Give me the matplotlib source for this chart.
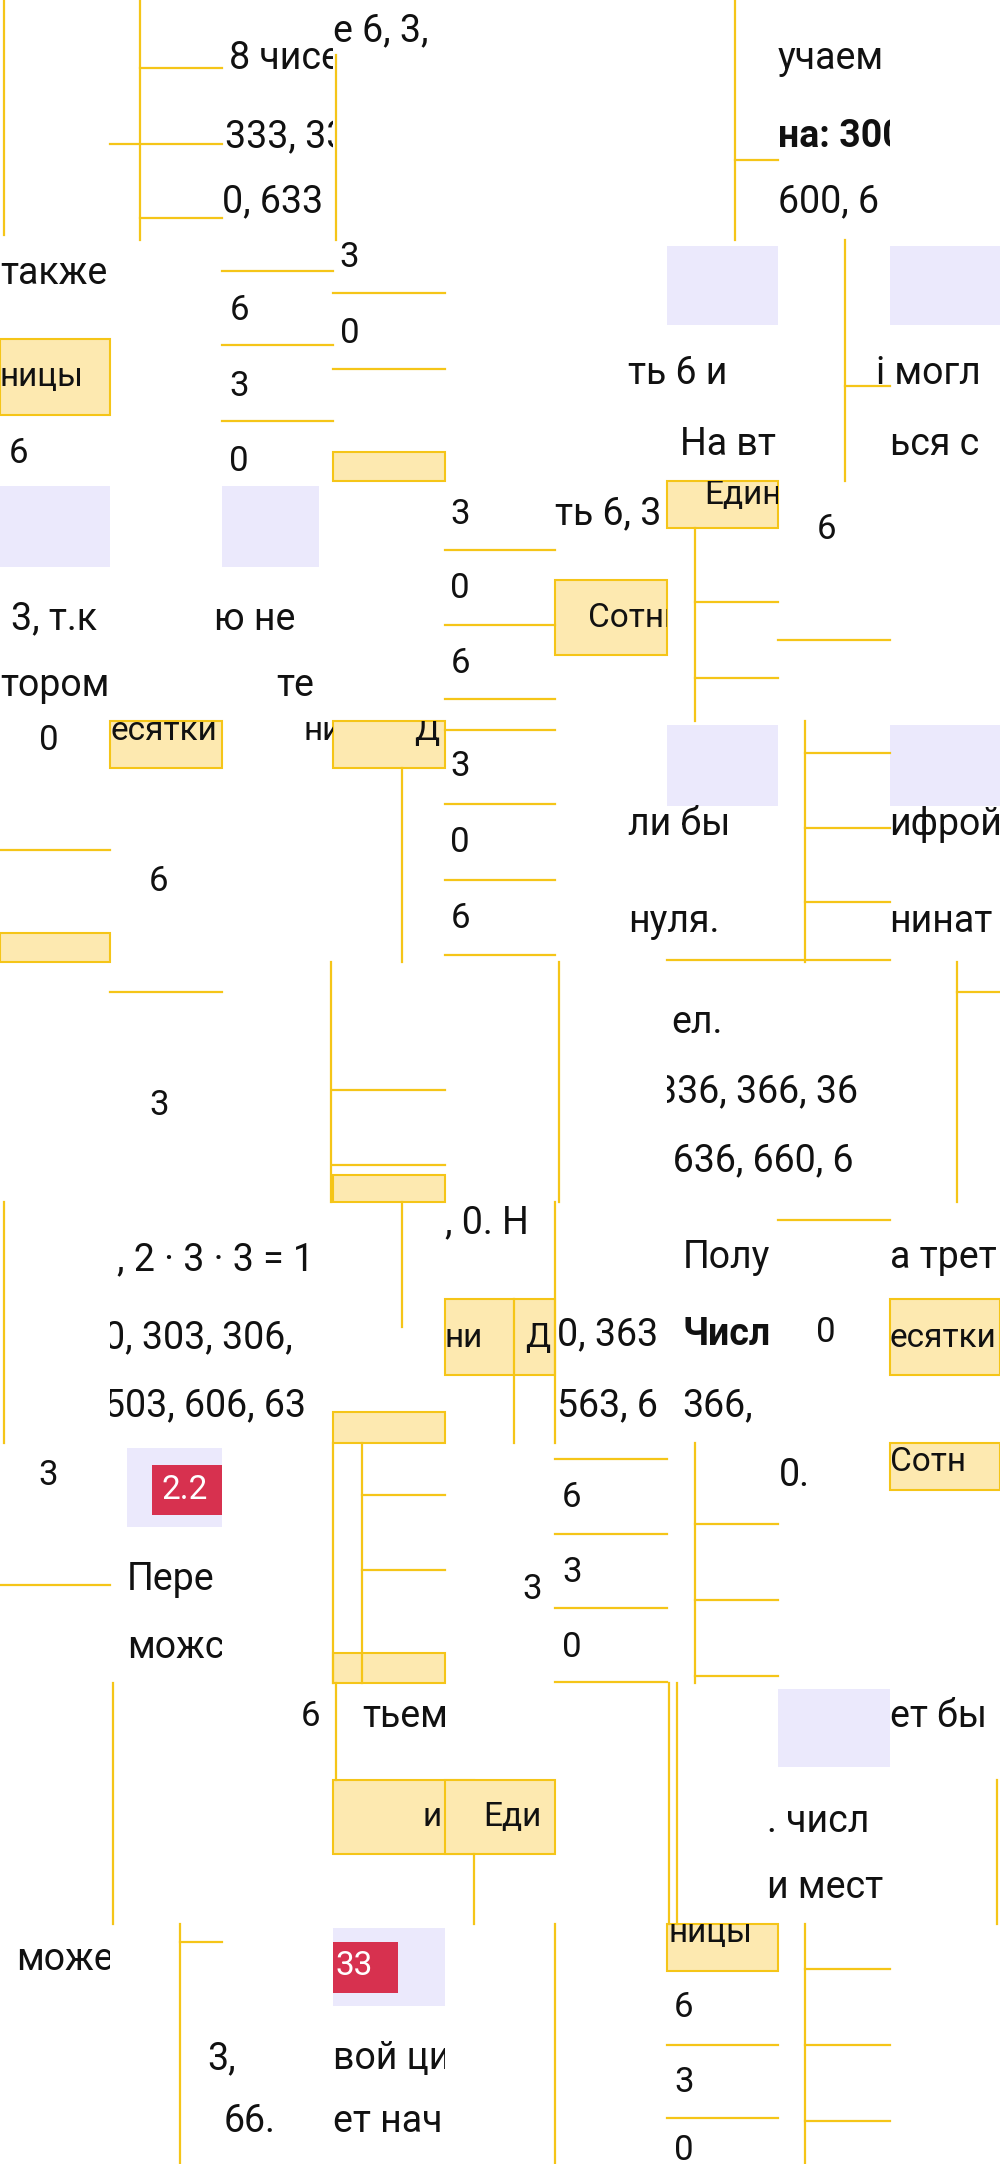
import bisect
import matplotlib.pyplot as plt
from matplotlib.patches import Rectangle
from matplotlib.transforms import Bbox

# reference laid out in 724 x 1566 units, 9 x 9 tiles
W, H = 724, 1566
COLS = [0, 80, 161, 241, 322, 402, 483, 563, 644, 724]
ROWS = [0, 174, 348, 522, 696, 870, 1044, 1218, 1392, 1566]

YEL = "#f5c518"
YEL_FILL = "#fde9b0"
LAV = "#ebe9fc"
RED = "#d7314f"

# text: (clip cols or None, x, y, string, size, bold)
texts = [
    (None, 166, 42, "8 чисел", 27, False), (None, 163, 99, "333, 336", 27, False),
    (None, 161, 146, "0, 633", 27, False), (None, 241, 22, "е 6, 3,", 27, False),
    (None, 563, 42, "учаем", 27, False), (None, 563, 99, "на: 300", 27, True),
    (None, 563, 146, "600, 6", 27, False),
    (None, 0, 198, "также", 27, False), (None, 0, 273, "ницы", 24, False),
    (None, 6, 328, "6", 25, False), (None, 166, 225, "6", 25, False),
    (None, 166, 280, "3", 25, False), (None, 166, 334, "0", 25, False),
    (None, 246, 186, "3", 25, False), (None, 246, 241, "0", 25, False),
    ((5, 7), 455, 270, "ть 6 и", 27, False), (None, 492, 322, "На вт", 27, False),
    ((7, 9), 634, 270, "i могл", 27, False), (None, 644, 322, "ься с", 27, False),
    (None, 8, 448, "3, т.к", 27, False), (None, 0, 496, "тором", 27, False),
    ((1, 3), 155, 448, "ю не", 27, False), ((1, 3), 200, 496, "те", 27, False),
    (None, 326, 372, "3", 25, False), (None, 326, 426, "0", 25, False),
    (None, 326, 480, "6", 25, False), (None, 402, 372, "ть 6, 3", 27, False),
    (None, 426, 447, "Сотни", 24, False), (None, 510, 358, "Единицы", 24, False),
    (None, 591, 383, "6", 25, False),
    (None, 28, 536, "0", 25, False), (None, 80, 529, "есятки", 24, False),
    (None, 108, 638, "6", 25, False), ((2, 3), 220, 529, "ни", 24, False),
    (None, 300, 529, "Д", 24, False), (None, 326, 555, "3", 25, False),
    (None, 326, 610, "0", 25, False), (None, 326, 665, "6", 25, False),
    ((5, 7), 455, 597, "ли бы", 27, False), ((5, 7), 455, 667, "нуля.", 27, False),
    (None, 644, 597, "ифрой", 27, False), (None, 644, 667, "нинат", 27, False),
    (None, 108, 800, "3", 25, False), (None, 486, 740, "ел.", 27, False),
    ((6, 8), 475, 790, "336, 366, 36", 27, False), ((6, 8), 475, 840, ", 636, 660, 6", 27, False),
    ((1, 3), 85, 912, ", 2 · 3 · 3 = 1", 27, False), ((1, 3), 75, 968, "0, 303, 306,", 27, False),
    ((1, 3), 75, 1017, "503, 606, 63", 27, False), (None, 322, 885, ", 0. Н", 27, False),
    (None, 322, 968, "ни", 24, False), (None, 380, 968, "Д", 24, False),
    (None, 403, 966, "0, 363", 27, False), (None, 403, 1017, "563, 6", 27, False),
    (None, 494, 910, "Полу", 27, False), (None, 494, 966, "Числ", 27, True),
    (None, 494, 1017, "366,", 27, False), (None, 644, 910, "а трет", 27, False),
    (None, 591, 964, "0", 25, False), (None, 644, 968, "есятки", 24, False),
    (None, 28, 1068, "3", 25, False), (None, 92, 1143, "Пере", 27, False),
    (None, 92, 1192, "можс", 27, False), (None, 378, 1150, "3", 25, False),
    (None, 407, 1084, "6", 25, False), (None, 407, 1138, "3", 25, False),
    (None, 407, 1192, "0", 25, False), (None, 564, 1068, "0.", 27, False),
    (None, 644, 1058, "Сотн", 24, False),
    (None, 218, 1242, "6", 25, False), (None, 262, 1242, "тьем", 27, False),
    (None, 306, 1315, "и", 24, False), (None, 350, 1315, "Еди", 24, False),
    (None, 644, 1242, "ет бы", 27, False), ((6, 8), 555, 1318, ". числ", 27, False),
    ((6, 8), 555, 1366, "и мест", 27, False),
    (None, 12, 1418, "може", 27, False), ((1, 3), 150, 1490, "3,", 27, False),
    (None, 162, 1535, "66.", 27, False), (None, 241, 1490, "вой ци", 27, False),
    (None, 241, 1535, "ет нач", 27, False), (None, 484, 1399, "ницы", 24, False),
    (None, 488, 1453, "6", 25, False), (None, 488, 1507, "3", 25, False),
    (None, 488, 1556, "0", 25, False),
]

# yellow lines: (x0, y0, x1, y1)
lines = [
    (3, 0, 3, 170), (101, 0, 101, 174), (101, 49, 161, 49),
    (80, 104, 161, 104), (101, 158, 161, 158), (243, 40, 243, 174),
    (532, 0, 532, 174), (532, 116, 563, 116),
    (161, 196, 241, 196), (161, 250, 241, 250), (161, 305, 241, 305),
    (241, 212, 322, 212), (241, 267, 322, 267),
    (612, 174, 612, 348), (612, 279, 644, 279),
    (322, 398, 402, 398), (322, 452, 402, 452), (322, 506, 402, 506),
    (503, 382, 503, 522), (503, 436, 563, 436), (503, 491, 563, 491),
    (563, 463, 644, 463),
    (0, 615, 80, 615), (291, 556, 291, 696),
    (322, 528, 402, 528), (322, 582, 402, 582), (322, 637, 402, 637),
    (322, 691, 402, 691), (583, 522, 583, 696), (583, 545, 644, 545),
    (583, 599, 644, 599), (583, 653, 644, 653), (483, 695, 644, 695),
    (80, 718, 161, 718), (240, 696, 240, 870),
    (241, 789, 322, 789), (241, 843, 322, 843), (405, 696, 405, 870),
    (693, 696, 693, 870), (693, 718, 724, 718),
    (3, 870, 3, 1044), (291, 870, 291, 960), (372, 940, 372, 1044),
    (402, 870, 402, 1044), (563, 883, 644, 883),
    (0, 1147, 80, 1147), (262, 1044, 262, 1218), (241, 1044, 241, 1218),
    (262, 1082, 322, 1082), (262, 1136, 322, 1136),
    (402, 1056, 483, 1056), (402, 1110, 483, 1110),
    (402, 1164, 483, 1164), (402, 1217, 483, 1217),
    (503, 1044, 503, 1218), (503, 1103, 563, 1103),
    (503, 1158, 563, 1158), (503, 1213, 563, 1213),
    (82, 1218, 82, 1392), (243, 1218, 243, 1288), (343, 1342, 343, 1392),
    (484, 1218, 484, 1392), (490, 1218, 490, 1392), (722, 1288, 722, 1392),
    (130, 1392, 130, 1566), (130, 1405, 161, 1405), (402, 1392, 402, 1566),
    (483, 1480, 563, 1480), (483, 1533, 563, 1533),
    (583, 1392, 583, 1566), (583, 1425, 644, 1425),
    (583, 1480, 644, 1480), (583, 1535, 644, 1535),
]

# boxes: (x, y, w, h, kind)
boxes = [
    (0, 245, 80, 55, "yel"), (241, 327, 81, 21, "yel"),
    (483, 178, 80, 57, "lav"), (644, 178, 80, 57, "lav"),
    (0, 352, 80, 58, "lav"), (161, 352, 70, 58, "lav"),
    (402, 420, 81, 54, "yel"), (483, 348, 80, 34, "yel"),
    (0, 675, 80, 21, "yel"), (80, 522, 81, 34, "yel"), (241, 522, 81, 34, "yel"),
    (483, 525, 80, 58, "lav"), (644, 525, 80, 58, "lav"),
    (241, 850, 81, 20, "yel"),
    (322, 940, 80, 55, "yel"), (644, 940, 80, 55, "yel"),
    (241, 1022, 81, 22, "yel"), (644, 1044, 80, 34, "yel"),
    (92, 1048, 69, 57, "lav"), (110, 1060, 51, 36, "red"),
    (241, 1196, 81, 22, "yel"), (563, 1222, 81, 57, "lav"),
    (241, 1288, 102, 54, "yel"), (322, 1288, 80, 54, "yel"),
    (241, 1395, 81, 57, "lav"), (241, 1405, 47, 37, "red"),
    (483, 1392, 80, 34, "yel"),
]
badges = [(117, 1078, "2.2"), (243, 1423, "33")]

fig = plt.figure(figsize=(10, 21.64), dpi=100)
ax = fig.add_axes([0, 0, 1, 1])
ax.set_xlim(0, W)
ax.set_ylim(H, 0)
ax.axis("off")
sx, sy = 1000 / W, 2164 / H


def clip_for(cols, x, y):
    if cols is None:
        c = min(bisect.bisect_right(COLS, x + 1) - 1, 8)
        cols = (c, c + 1)
    r = min(bisect.bisect_right(ROWS, y) - 1, 8)
    x0, x1 = COLS[cols[0]] * sx, COLS[cols[1]] * sx
    y0, y1 = (H - ROWS[r + 1]) * sy, (H - ROWS[r]) * sy
    return Bbox.from_extents(x0, y0, x1, y1)


for x, y, w, h, kind in boxes:
    if kind == "yel":
        p = Rectangle((x, y), w, h, facecolor=YEL_FILL, edgecolor=YEL, lw=1.5)
    elif kind == "lav":
        p = Rectangle((x, y), w, h, facecolor=LAV, edgecolor="none")
    else:
        p = Rectangle((x, y), w, h, facecolor=RED, edgecolor="none")
    ax.add_patch(p)

for x0, y0, x1, y1 in lines:
    ax.plot([x0, x1], [y0, y1], color=YEL, lw=1.6)

for cols, x, y, s, size, bold in texts:
    t = ax.text(x, y, s, fontsize=size, family="Roboto", va="center", ha="left",
                fontweight="bold" if bold else "normal", color="#111111")
    t.set_clip_box(clip_for(cols, x, y))
    t.set_clip_on(True)

for x, y, s in badges:
    t = ax.text(x, y, s, fontsize=24, family="Roboto", va="center", ha="left", color="white")
    t.set_clip_box(clip_for(None, x, y))
    t.set_clip_on(True)

fig.savefig("out.png", dpi=100, facecolor="white")
